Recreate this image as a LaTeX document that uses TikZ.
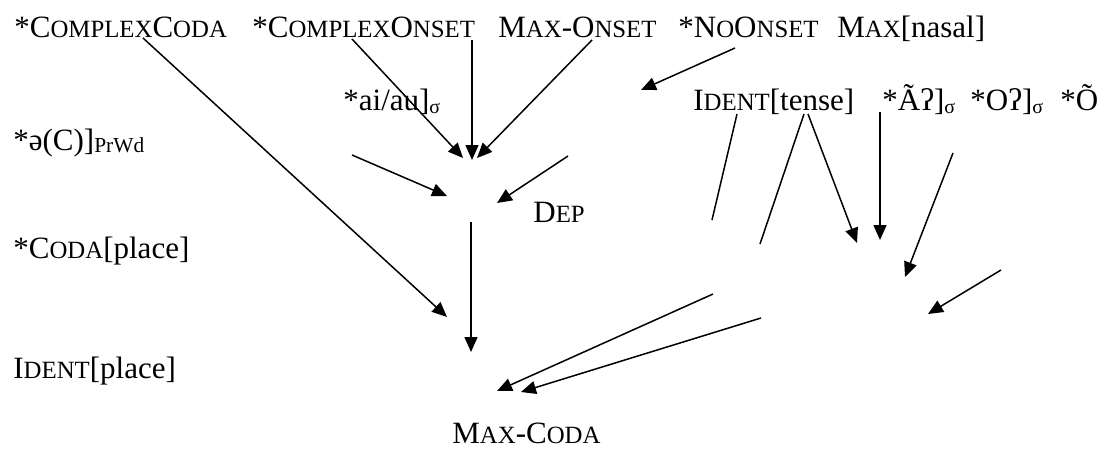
\documentclass[tikz,border=0pt]{standalone}
\usepackage{fontspec}
\setmainfont{Liberation Serif}
\usepackage{tikz}
\usetikzlibrary{arrows.meta}

% small capitals and subscripts
\newcommand{\sm}[1]{{\fontsize{12.4}{14}\selectfont #1}}
\newcommand{\sub}[1]{\raisebox{-1.5pt}{\fontsize{10}{12}\selectfont #1}}

\begin{document}
\begin{tikzpicture}[x = 0.5pt, y = -0.5pt,
    lbl/.style = {anchor = base west, inner sep = 0pt, font = \fontsize{15.5}{18}\selectfont},
    arr/.style = {line width = 0.75pt, -{Triangle[length = 7.5pt, width = 6.5pt]}},
    seg/.style = {line width = 0.75pt}]
    \useasboundingbox (0,0) rectangle (1107,450);

    % constraints
    \node[lbl] (ccoda)   at (14,37)   {*C\sm{OMPLEX}C\sm{ODA}};
    \node[lbl] (consets) at (252,37)  {*C\sm{OMPLEX}O\sm{NSET}};
    \node[lbl] (maxons)  at (498,37)  {M\sm{AX}-O\sm{NSET}};
    \node[lbl] (noons)   at (678,37)  {*N\sm{O}O\sm{NSET}};
    \node[lbl] (maxnas)  at (837,37)  {M\sm{AX}[nasal]};
    \node[lbl] (aiau)    at (343,110) {*ai/au]\sub{σ}};
    \node[lbl] (idtense) at (693,110) {I\sm{DENT}[tense]};
    \node[lbl] (anas)    at (882,110) {*Ãʔ]\sub{σ}};
    \node[lbl] (oglot)   at (970,110) {*Oʔ]\sub{σ}};
    \node[lbl] (onas)    at (1060,110) {*Õ};
    \node[lbl] (schwa)   at (13,150)  {*ə(C)]\raisebox{-1pt}{\fontsize{10.7}{12}\selectfont PrWd}};
    \node[lbl] (dep)     at (533,222) {D\sm{EP}};
    \node[lbl] (codapl)  at (13,258)  {*C\sm{ODA}[place]};
    \node[lbl] (idplace) at (13,378)  {I\sm{DENT}[place]};
    \node[lbl] (maxcoda) at (452,443) {M\sm{AX}-C\sm{ODA}};

    % line ends
    \foreach \n/\x/\y in {a1/143/38, b1/447/317, a2/352/39, b2/463/158,
        a3/472/40, b3/472/160, a4/592/40, b4/477/158, a5/735/48, b5/641/90,
        a6/352/155, b6/447/196, a7/568/156, b7/497/203, a8/471/222, b8/471/352,
        a9/737/114, b9/712/220, a10/804/114, b10/760/244, a11/808/114, b11/857/243,
        a12/880/112, b12/880/240, a13/953/153, b13/905/277, a14/1001/270, b14/928/314,
        a15/713/294, b15/497/391, a16/761/318, b16/521/392}
        \coordinate (\n) at (\x,\y);

    \foreach \s/\e in {a1/b1, a2/b2, a3/b3, a4/b4, a5/b5, a6/b6, a7/b7, a8/b8,
        a11/b11, a12/b12, a13/b13, a14/b14, a15/b15, a16/b16}
        \draw[arr] (\s) -- (\e);
    \draw[seg] (a9) -- (b9);
    \draw[seg] (a10) -- (b10);
\end{tikzpicture}
\end{document}
